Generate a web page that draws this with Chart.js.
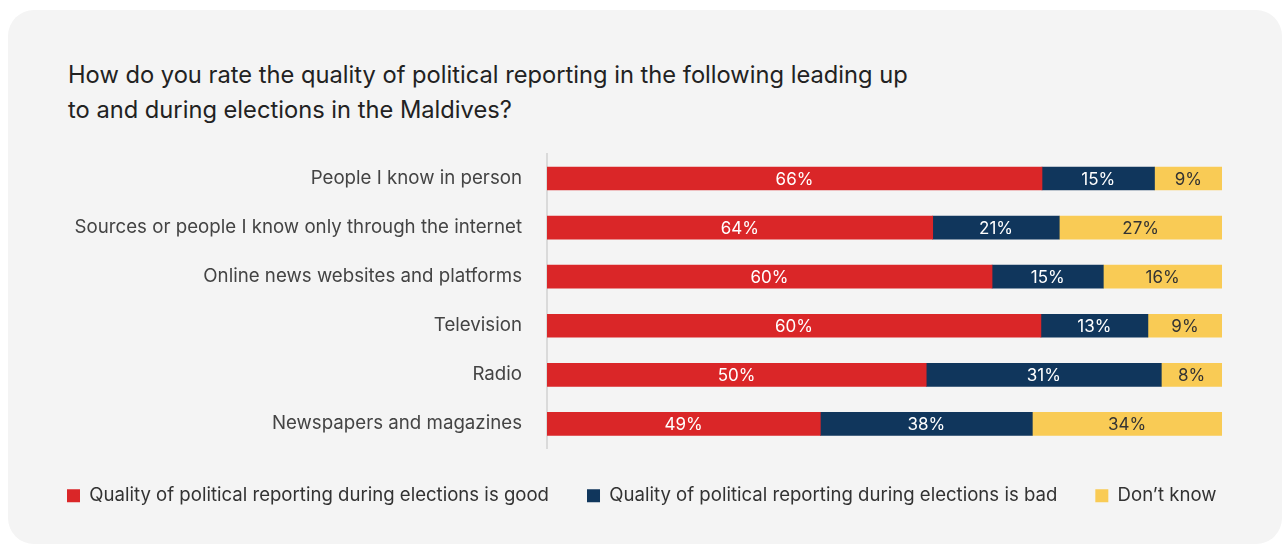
<!DOCTYPE html>
<html>
<head>
<meta charset="utf-8">
<script src="https://cdn.jsdelivr.net/npm/chart.js@4.4.1/dist/chart.umd.min.js"></script>
<style>
  body { margin: 0; background: #fff; font-family: Inter, sans-serif; }
  .panel { position: absolute; left: 8px; top: 10px; width: 1274px; height: 534px; background: #f4f4f4; border-radius: 26px; }
  .title { position: absolute; left: 68px; top: 57px; margin: 0; font-size: 23.7px; line-height: 35px; font-weight: 400; color: #222; }
  #chart { position: absolute; left: 0; top: 0; }
</style>
</head>
<body>
<div class="panel"></div>
<h1 class="title">How do you rate the quality of political reporting in the following leading up<br>to and during elections in the Maldives?</h1>
<canvas id="chart" width="1282" height="544"></canvas>
<script>
var categories = [
  'People I know in person',
  'Sources or people I know only through the internet',
  'Online news websites and platforms',
  'Television',
  'Radio',
  'Newspapers and magazines'
];
var good = [66, 64, 60, 60, 50, 49];
var bad = [15, 21, 15, 13, 31, 38];
var dontKnow = [9, 27, 16, 9, 8, 34];

var seriesNames = [
  'Quality of political reporting during elections is good',
  'Quality of political reporting during elections is bad',
  'Don\u2019t know'
];
var colors = ['#da2628', '#10365c', '#f9cb55'];
var labelColors = ['#ffffff', '#ffffff', '#333333'];

// each row is stretched to the full width: share of the row total
function shares(values) {
  return values.map(function(v, i) {
    var total = good[i] + bad[i] + dontKnow[i];
    return v / total * 100;
  });
}

var rawValues = [good, bad, dontKnow];

// writes the reported percentage in the middle of each segment
var segmentLabels = {
  id: 'segmentLabels',
  afterDatasetsDraw: function(chart) {
    var ctx = chart.ctx;
    ctx.save();
    ctx.font = '17px Inter';
    ctx.textAlign = 'center';
    ctx.textBaseline = 'middle';
    chart.data.datasets.forEach(function(ds, d) {
      chart.getDatasetMeta(d).data.forEach(function(bar, i) {
        ctx.fillStyle = labelColors[d];
        ctx.fillText(rawValues[d][i] + '%', (bar.x + bar.base) / 2, bar.y + 1);
      });
    });
    ctx.restore();
  }
};

Chart.defaults.font.family = 'Inter';

new Chart(document.getElementById('chart'), {
  type: 'bar',
  data: {
    labels: categories,
    datasets: rawValues.map(function(vals, d) {
      return {
        label: seriesNames[d],
        data: shares(vals),
        backgroundColor: colors[d],
        borderWidth: 0,
        barThickness: 23
      };
    })
  },
  options: {
    indexAxis: 'y',
    responsive: false,
    animation: false,
    layout: { padding: { left: 29, right: 20, top: 154, bottom: 29 } },
    scales: {
      x: { stacked: true, min: 0, max: 100, display: false },
      y: {
        stacked: true,
        grid: { display: false },
        border: { display: true, color: '#dadada', width: 2 },
        ticks: { color: '#444', font: { size: 18.7 }, padding: 17 },
        afterFit: function(scale) { scale.width = 518; }
      },
      // empty right-hand gutter so the legend row gets the full width
      yRight: {
        type: 'category',
        position: 'right',
        grid: { display: false },
        border: { display: false },
        ticks: { display: false },
        afterFit: function(scale) { scale.width = 40; }
      }
    },
    plugins: {
      legend: {
        position: 'bottom',
        align: 'start',
        labels: {
          boxWidth: 13,
          boxHeight: 13,
          padding: 38,
          color: '#333',
          font: { size: 18.6 }
        }
      },
      tooltip: { enabled: false }
    }
  },
  plugins: [segmentLabels]
});
</script>
</body>
</html>
